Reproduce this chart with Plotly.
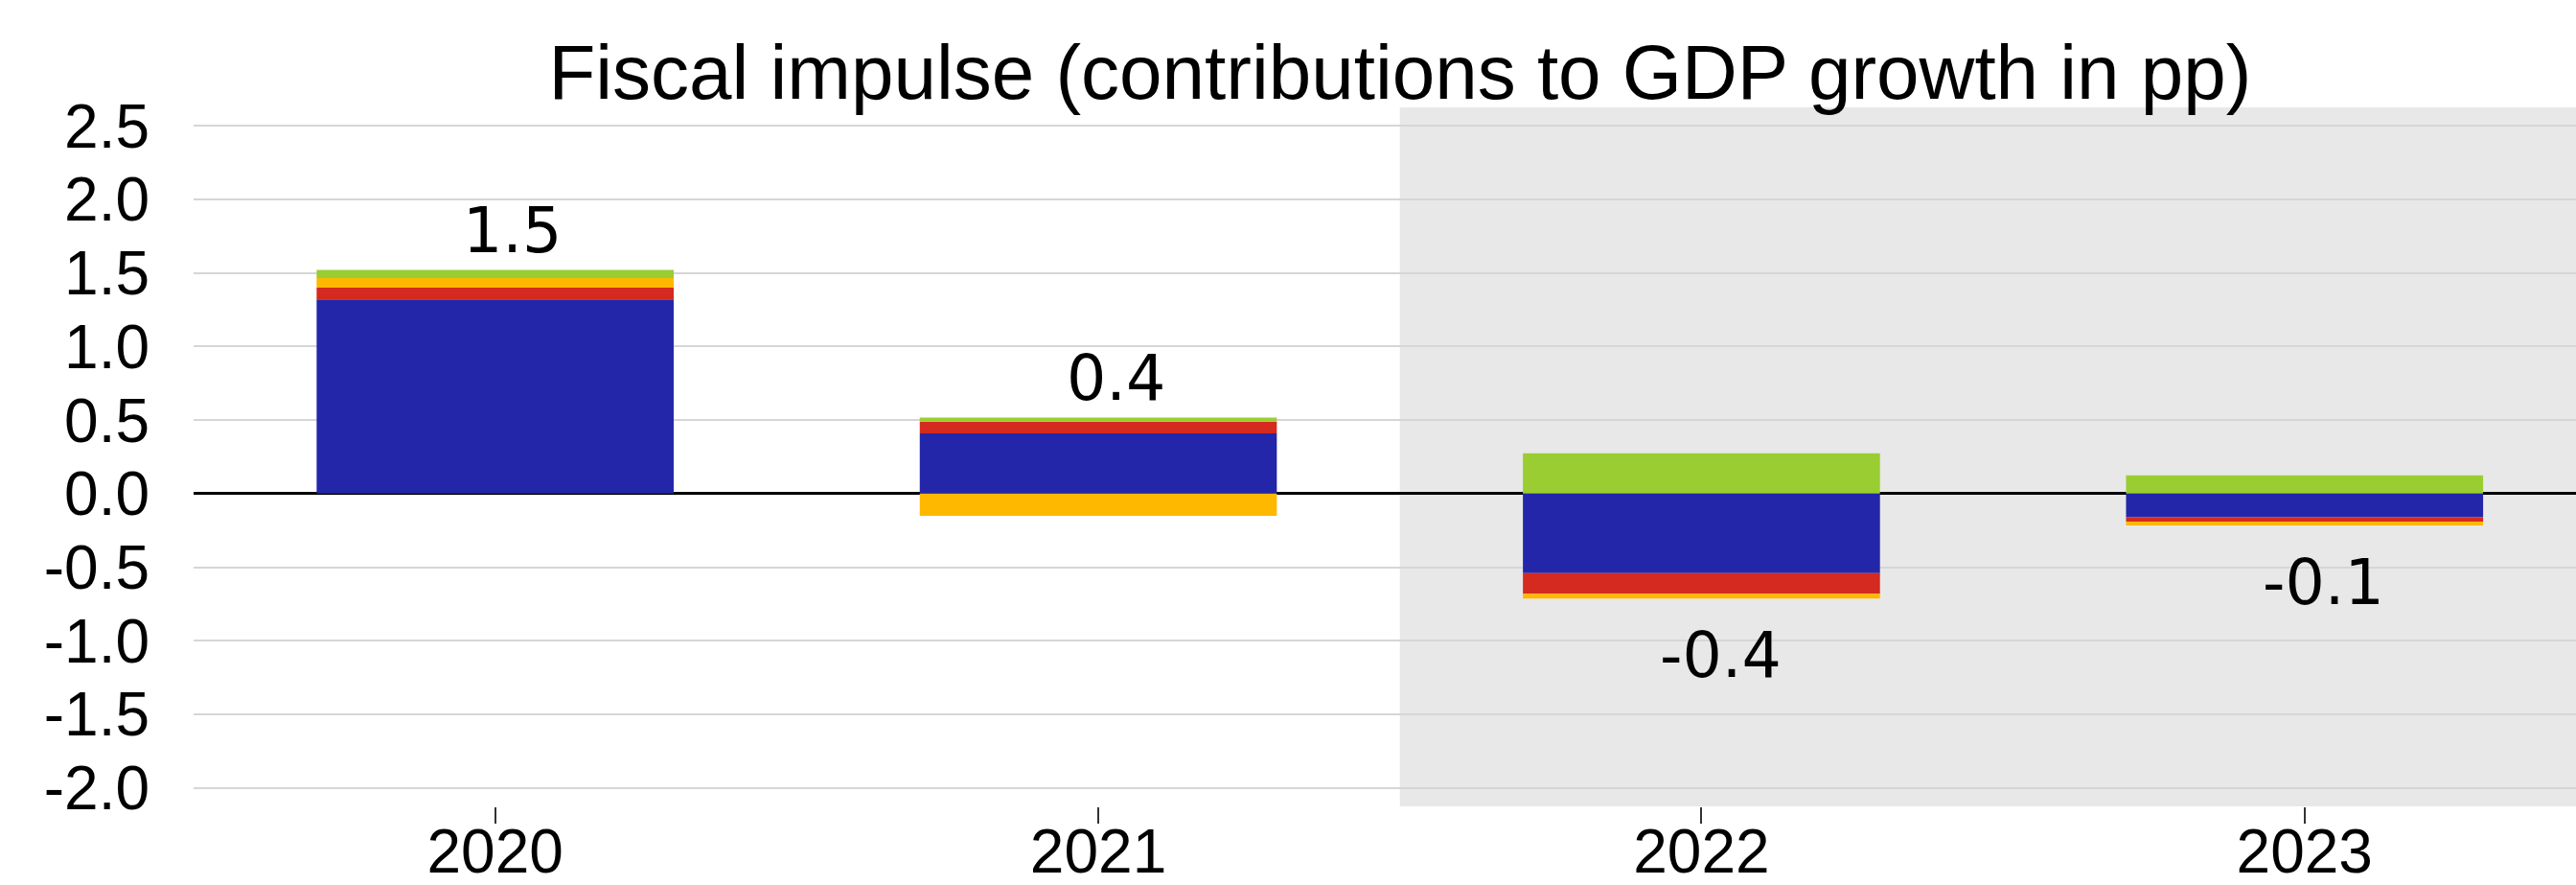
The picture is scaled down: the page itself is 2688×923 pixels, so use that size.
import plotly.graph_objects as go

# ---- data ----
years = ["2020", "2021", "2022", "2023"]
series_names = ["Component 1", "Component 2", "Component 3", "Component 4"]
blue_vals = [1.32, 0.41, -0.54, -0.16]
red_vals = [0.08, 0.08, -0.14, -0.03]
yellow_vals = [0.065, -0.15, -0.033, -0.026]
green_vals = [0.055, 0.027, 0.275, 0.124]
colors = ["#2326A8", "#D42A1F", "#FFB800", "#9ACD32"]
title_text = "Fiscal impulse (contributions to GDP growth in pp)"
y_tick_vals = [-2.0, -1.5, -1.0, -0.5, 0.0, 0.5, 1.0, 1.5, 2.0, 2.5]

all_series = [blue_vals, red_vals, yellow_vals, green_vals]

fig = go.Figure()
x_idx = list(range(len(years)))
for name, vals, col in zip(series_names, all_series, colors):
    fig.add_trace(go.Bar(
        x=x_idx, y=vals, name=name, marker=dict(color=col, line=dict(width=0)),
        width=0.592, showlegend=False,
    ))

# totals labels
for i in x_idx:
    vals = [s[i] for s in all_series]
    total = sum(vals)
    pos = sum(v for v in vals if v > 0)
    neg = sum(v for v in vals if v < 0)
    if total >= 0:
        fig.add_annotation(x=i, y=pos, text=f"{total:.1f}", showarrow=False,
                           yanchor="bottom", xanchor="center", xshift=18, yshift=2,
                           font=dict(family="DejaVu Sans", size=65, color="black"))
    else:
        fig.add_annotation(x=i, y=neg, text=f"{total:.1f}", showarrow=False,
                           yanchor="top", xanchor="center", xshift=20, yshift=-20,
                           font=dict(family="DejaVu Sans", size=65, color="black"))

# forecast shading
fig.add_shape(type="rect", xref="x", yref="paper", x0=1.5, x1=4.0, y0=0, y1=1,
              fillcolor="#E8E8E8", line=dict(width=0), layer="below")

fig.update_layout(
    width=2688, height=923,
    margin=dict(l=202, r=0, t=112, b=82, pad=0),
    barmode="relative",
    plot_bgcolor="white", paper_bgcolor="white",
    title=dict(text=title_text, x=0.5435, xref="container", xanchor="center",
               y=0.919, yref="container", yanchor="middle",
               font=dict(family="Liberation Sans", size=80, color="black")),
    font=dict(family="Liberation Sans", color="black"),
)
fig.update_xaxes(
    range=[-0.5, 3.45], tickmode="array", tickvals=x_idx, ticktext=years,
    ticks="outside", ticklen=17, tickwidth=2, tickcolor="#333333",
    showgrid=False, zeroline=False, showline=False,
    tickfont=dict(family="Liberation Sans", size=64, color="black"),
    ticklabelstandoff=-26,
    automargin=False,
)
fig.update_yaxes(
    range=[-2.125, 2.625], tickmode="array", tickvals=y_tick_vals,
    ticktext=[f"{v:.1f}" for v in y_tick_vals],
    showgrid=True, gridcolor="#D6D6D6", gridwidth=2,
    zeroline=True, zerolinecolor="black", zerolinewidth=3,
    showline=False, ticks="", ticklabelstandoff=45,
    tickfont=dict(family="Liberation Sans", size=64, color="black"),
    automargin=False,
)

fig.write_html("out.html")
